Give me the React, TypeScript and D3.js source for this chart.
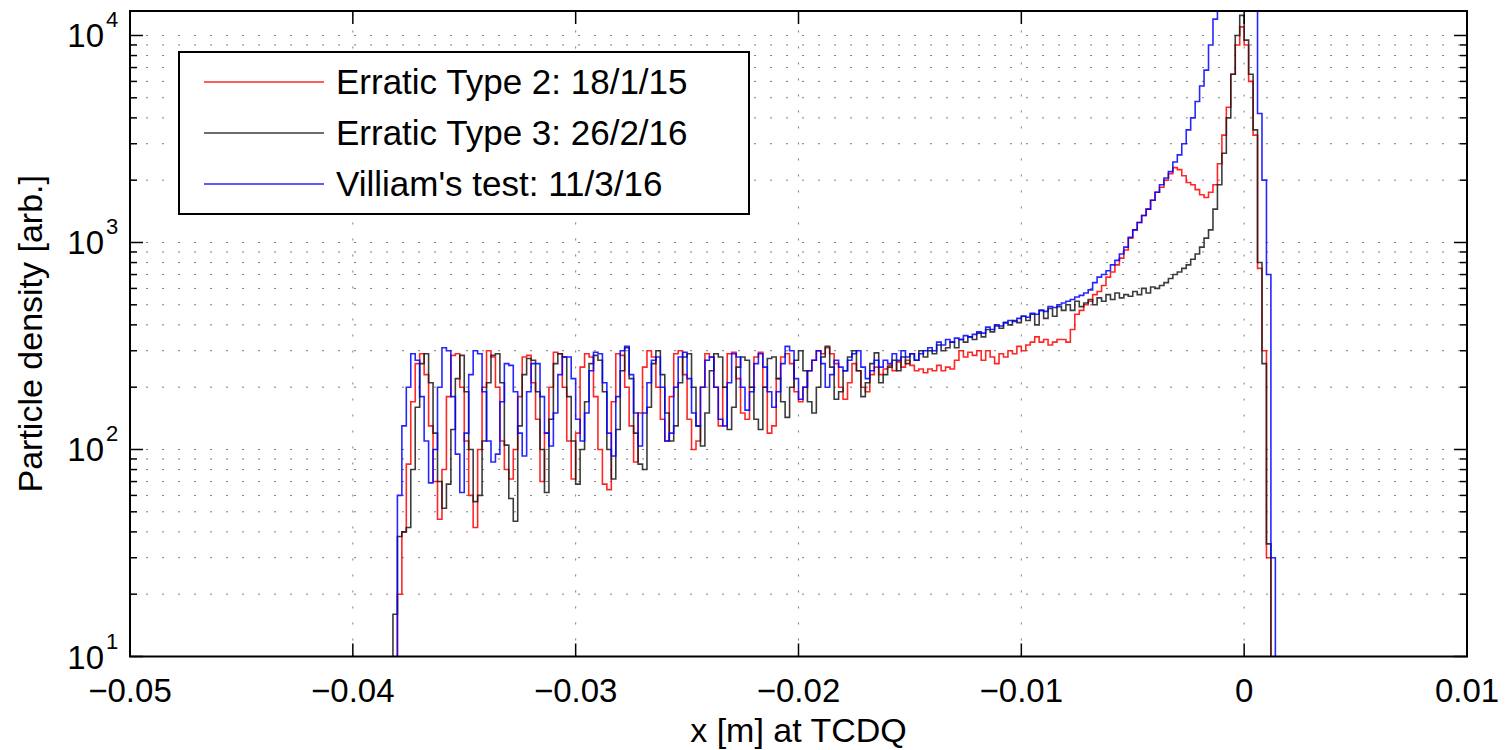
import React from 'react';
import * as d3 from 'd3';

// Histogram bins: left edge of first bin and bin width (m)
const BIN_START = -0.0384;
const BIN_WIDTH = 0.0002;

// Erratic Type 2: 18/1/15
const redValues = [
  0, 0, 20, 40, 85, 170, 260, 290, 230, 130,
  70, 46, 80, 180, 285, 290, 200, 110, 60, 42,
  100, 200, 300, 280, 200, 110, 80, 72, 100, 180,
  280, 285, 210, 140, 70, 120, 200, 295, 290, 200,
  110, 72, 120, 250, 290, 280, 180, 100, 68, 64,
  170, 290, 285, 200, 130, 87, 150, 250, 300, 280,
  200, 140, 110, 180, 290, 300, 230, 140, 100, 110,
  200, 290, 280, 200, 130, 200, 290, 295, 220, 150,
  140, 200, 280, 295, 200, 120, 130, 220, 280, 290,
  260, 190, 170, 200, 240, 270, 300, 290, 310, 290,
  260, 200, 175, 210, 260, 240, 200, 190, 230, 250,
  230, 245, 255, 240, 265, 250, 270, 255, 240, 245,
  235, 245, 240, 255, 240, 250, 245, 270, 300, 280,
  295, 285, 300, 270, 300, 280, 260, 290, 280, 300,
  290, 315, 300, 320, 330, 350, 330, 340, 320, 330,
  340, 340, 330, 380, 450, 470, 500, 520, 560, 580,
  620, 680, 720, 780, 840, 920, 1050, 1150, 1250, 1350,
  1450, 1600, 1750, 1850, 2000, 2150, 2300, 2250, 2100, 1950,
  1900, 1800, 1700, 1650, 1750, 1900, 2400, 3300, 4500, 6500,
  9000, 11000, 9000, 6000, 3300, 750, 300, 30, 0, 0,
];

// Erratic Type 3: 26/2/16
const blackValues = [
  0, 16, 38, 40, 42, 80, 160, 260, 290, 210,
  120, 70, 52, 68, 125, 220, 285, 190, 100, 56,
  60, 110, 210, 285, 290, 210, 105, 58, 45, 130,
  230, 275, 270, 190, 100, 62, 140, 260, 290, 280,
  180, 110, 68, 100, 170, 260, 285, 270, 190, 100,
  72, 125, 240, 310, 220, 120, 85, 80, 160, 260,
  300, 230, 150, 110, 130, 210, 280, 290, 200, 130,
  104, 150, 240, 290, 280, 200, 125, 160, 250, 280,
  270, 200, 140, 125, 200, 275, 280, 220, 170, 143,
  200, 270, 300, 240, 170, 150, 200, 280, 315, 250,
  175, 190, 240, 280, 300, 240, 180, 210, 260, 293,
  210, 230, 250, 270, 240, 280, 260, 290, 270, 300,
  280, 300, 290, 320, 300, 310, 330, 310, 340, 330,
  350, 340, 365, 350, 380, 370, 395, 385, 410, 400,
  420, 410, 440, 420, 450, 400, 470, 430, 480, 440,
  490, 470, 500, 470, 520, 490, 510, 530, 500, 540,
  520, 560, 530, 570, 540, 560, 550, 580, 560, 600,
  570, 610, 600, 620, 640, 670, 700, 720, 750, 780,
  830, 880, 950, 1050, 1150, 1450, 1900, 2700, 4000, 6500,
  10000, 12500, 9500, 6500, 3500, 800, 260, 35, 0, 0,
];

// Villiam's test: 11/3/16
const blueValues = [
  0, 0, 60, 130, 200, 290, 270, 180, 110, 69,
  100, 200, 310, 300, 180, 95, 62, 120, 230, 300,
  290, 190, 110, 87, 95, 170, 260, 255, 190, 120,
  93, 190, 260, 260, 180, 120, 104, 150, 230, 280,
  280, 220, 140, 110, 150, 240, 295, 290, 210, 120,
  93, 180, 300, 315, 230, 150, 104, 150, 210, 270,
  280, 200, 110, 120, 200, 280, 295, 220, 150, 130,
  200, 270, 280, 200, 140, 130, 210, 290, 280, 200,
  155, 190, 260, 290, 250, 190, 160, 190, 260, 315,
  300, 220, 175, 200, 240, 270, 300, 260, 200, 230,
  270, 250, 240, 270, 290, 300, 250, 220, 240, 270,
  250, 270, 260, 290, 270, 300, 280, 290, 270, 290,
  300, 310, 300, 330, 320, 340, 330, 345, 340, 355,
  350, 360, 370, 365, 390, 380, 400, 395, 410, 420,
  415, 430, 440, 435, 455, 450, 470, 465, 490, 485,
  500, 510, 520, 530, 545, 555, 570, 590, 640, 680,
  700, 730, 780, 820, 880, 950, 1060, 1150, 1250, 1350,
  1450, 1600, 1750, 1900, 2050, 2200, 2450, 2650, 3000, 3500,
  4000, 4800, 5700, 6800, 9000, 12000, 16000, 20000, 25000, 30000,
  35000, 40000, 35000, 25000, 15000, 4200, 2000, 700, 30, 0,
];

const seriesNames = ['Erratic Type 2: 18/1/15', 'Erratic Type 3: 26/2/16', "Villiam's test: 11/3/16"];
const seriesColors = ['#ff0000', '#1a1a1a', '#0000ff'];

const xTicks = [-0.05, -0.04, -0.03, -0.02, -0.01, 0, 0.01];
const xTickLabels = ['\u22120.05', '\u22120.04', '\u22120.03', '\u22120.02', '\u22120.01', '0', '0.01'];
const yDecadeExponents = [1, 2, 3, 4];

const FONT = '"Liberation Sans", Arial, Helvetica, sans-serif';

export default function App() {
  const L = 130, R = 1467, T = 11, B = 656.5;
  const x = d3.scaleLinear().domain([-0.05, 0.01]).range([L, R]);
  const y = d3.scaleLog().domain([10, 13130]).range([B, T]);

  const yMinor: number[] = [];
  for (let d = 1; d <= 4; d++) {
    for (let m = 1; m <= 9; m++) {
      const v = m * Math.pow(10, d);
      if (v <= 13130) yMinor.push(v);
    }
  }

  const yPix = (v: number) => (v > 0 ? y(v) : B + 30);
  const line = d3
    .line<[number, number]>()
    .x((d) => x(d[0]))
    .y((d) => yPix(d[1]))
    .curve(d3.curveStepAfter);

  const makePts = (vals: number[]): [number, number][] => {
    const pts: [number, number][] = vals.map((v, i) => [BIN_START + i * BIN_WIDTH, v]);
    pts.push([BIN_START + vals.length * BIN_WIDTH, 0]);
    return pts;
  };

  const allSeries = [redValues, blackValues, blueValues];

  return (
    <svg
      width={1508}
      height={750}
      style={{ position: 'absolute', left: 0, top: 0, background: '#fff' }}
      fontFamily={FONT}
    >
      <defs>
        <clipPath id="plotClip">
          <rect x={L} y={T} width={R - L} height={B - T} />
        </clipPath>
      </defs>
      <rect x={0} y={0} width={1508} height={750} fill="#fff" />

      {/* grid */}
      <g stroke="#7a7a7a" strokeWidth={1} strokeDasharray="2,14" fill="none">
        {yMinor.map((v, i) => (
          <line key={'gy' + i} x1={L} x2={R} y1={y(v)} y2={y(v)} />
        ))}
        {xTicks.slice(1, -1).map((t, i) => (
          <line key={'gx' + i} x1={x(t)} x2={x(t)} y1={B} y2={T} />
        ))}
      </g>

      {/* data */}
      <g clipPath="url(#plotClip)" fill="none" strokeWidth={1.6} strokeLinejoin="miter">
        {allSeries.map((vals, k) => (
          <path key={k} d={line(makePts(vals)) || ''} stroke={seriesColors[k]} strokeOpacity={0.85} />
        ))}
      </g>

      {/* axes box */}
      <rect x={L} y={T} width={R - L} height={B - T} fill="none" stroke="#000" strokeWidth={2} />

      {/* ticks */}
      <g stroke="#000" strokeWidth={1.5}>
        {xTicks.map((t, i) => (
          <g key={'xt' + i}>
            <line x1={x(t)} x2={x(t)} y1={B} y2={B - 13} />
            <line x1={x(t)} x2={x(t)} y1={T} y2={T + 13} />
          </g>
        ))}
        {yMinor.map((v, i) => {
          const major = yDecadeExponents.some((e) => Math.abs(v - Math.pow(10, e)) < 1e-6);
          const len = major ? 13 : 7;
          return (
            <g key={'yt' + i}>
              <line x1={L} x2={L + len} y1={y(v)} y2={y(v)} />
              <line x1={R} x2={R - len} y1={y(v)} y2={y(v)} />
            </g>
          );
        })}
      </g>

      {/* x tick labels */}
      <g fontSize={33} fill="#000" textAnchor="middle">
        {xTicks.map((t, i) => (
          <text key={'xl' + i} x={x(t)} y={702}>
            {xTickLabels[i]}
          </text>
        ))}
      </g>

      {/* y tick labels */}
      <g fill="#000">
        {yDecadeExponents.map((e) => {
          const ty = y(Math.pow(10, e));
          return (
            <g key={'yl' + e}>
              <text x={104} y={ty + 12} fontSize={33} textAnchor="end">
                10
              </text>
              <text x={106} y={ty - 8} fontSize={22}>
                {e}
              </text>
            </g>
          );
        })}
      </g>

      {/* axis titles */}
      <text x={(L + R) / 2} y={742} fontSize={34} textAnchor="middle" fill="#000">
        x [m] at TCDQ
      </text>
      <text
        transform={`translate(42, ${(T + B) / 2}) rotate(-90)`}
        fontSize={34}
        textAnchor="middle"
        fill="#000"
      >
        Particle density [arb.]
      </text>

      {/* legend */}
      <g>
        <rect x={179} y={52} width={570} height={162} fill="#fff" stroke="#000" strokeWidth={2} />
        {seriesNames.map((name, k) => {
          const ly = 82 + k * 51;
          return (
            <g key={'lg' + k}>
              <line x1={204} x2={324} y1={ly} y2={ly} stroke={seriesColors[k]} strokeWidth={1.6} strokeOpacity={0.85} />
              <text x={336} y={ly + 12} fontSize={35} fill="#000">
                {name}
              </text>
            </g>
          );
        })}
      </g>
    </svg>
  );
}
